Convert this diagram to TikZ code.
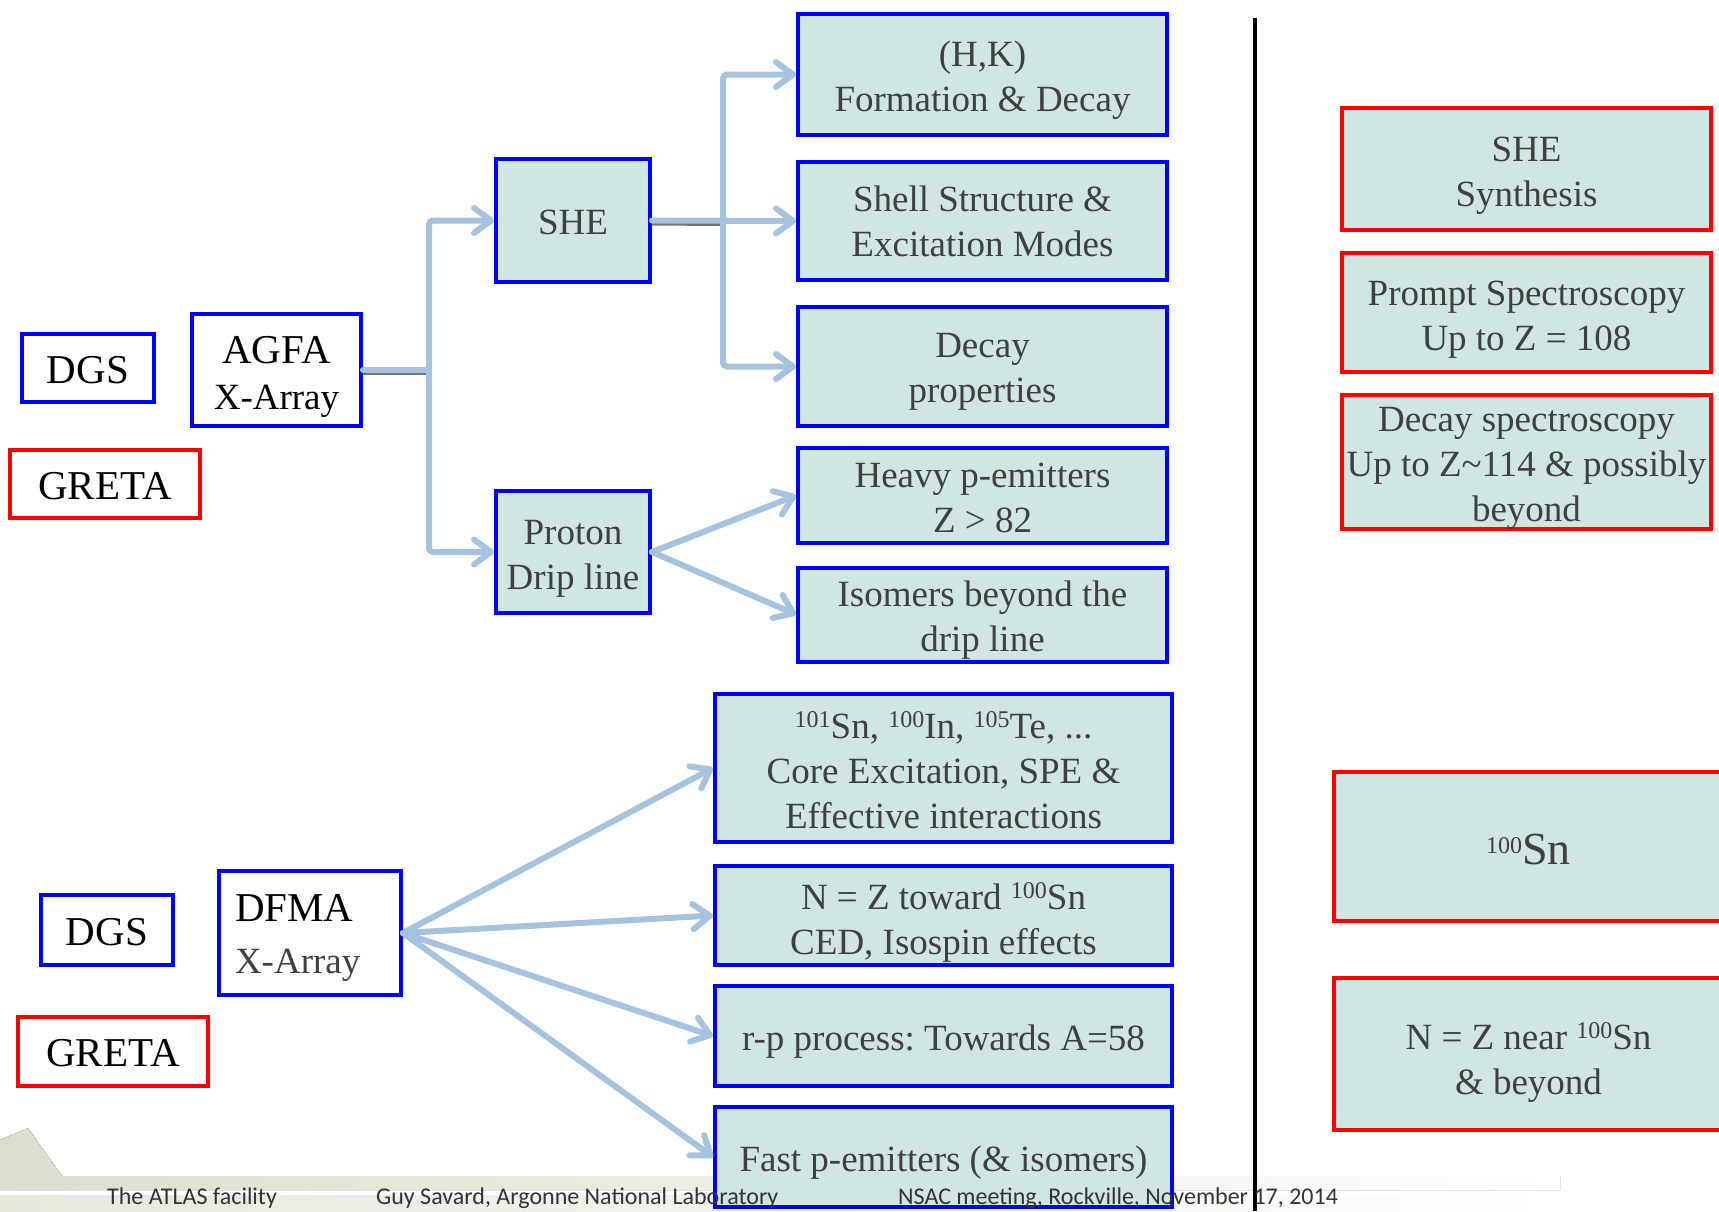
\documentclass[tikz,border=0pt]{standalone}
\usepackage{fontspec}
\setmainfont{Liberation Serif}
\newfontfamily\footfam{Carlito}
\usepackage{xcolor}
\usetikzlibrary{arrows.meta}
\frenchspacing

\definecolor{boxfill}{RGB}{208,230,227}
\definecolor{linkblue}{RGB}{165,195,222}
\definecolor{textgray}{RGB}{64,64,64}
\definecolor{bandgray}{RGB}{220,222,205}

\newcommand{\boxfont}{\fontsize{37}{45}\selectfont}
\newcommand{\detfont}{\fontsize{41}{46}\selectfont}
\newcommand{\massno}[1]{\raisebox{11pt}{\fontsize{24}{24}\selectfont #1}}

\begin{document}
\begin{tikzpicture}[x=1pt, y=-1pt]

\tikzset{
    box/.style = {
    inner sep=0pt,
    align=center,
    fill=boxfill,
    text=textgray,
    font=\boxfont
    }
}

\tikzstyle{topic}=[draw=blue, line width=4pt, box]
\tikzstyle{goal}=[draw=red, line width=4pt, box]
\tikzstyle{blueframe}=[draw=blue, line width=4pt, fill=white, inner sep=0pt, align=center, text height=31pt, font=\detfont]
\tikzstyle{redframe}=[draw=red, line width=4pt, fill=white, inner sep=0pt, align=center, text height=31pt, font=\detfont]
\tikzstyle{link}=[draw=linkblue, line width=6pt, line cap=round, rounded corners=4pt, -{Straight Barb[length=17pt, width=25pt, round]}]
\tikzstyle{shadowline}=[draw=black!55, line width=6pt, transform canvas={yshift=-2pt}]
\tikzstyle{footer}=[anchor=base west, inner sep=0pt, text=black!80, font=\footfam\fontsize{24}{24}\selectfont]

\useasboundingbox (0,0) rectangle (1719,1211);

% slide footer band
\fill[left color=bandgray, right color=white] (0,1140) -- (28,1128) -- (62,1176) -- (1560,1176) -- (1560,1190) -- (0,1190) -- cycle;
\fill[left color=bandgray!70, right color=white] (0,1195) rectangle (1560,1211);

% detectors
\node (dgsA) [blueframe, minimum width=132pt, minimum height=68pt] at (88,368) {DGS};
\node (agfa) [blueframe, minimum width=169pt, minimum height=112pt, text height=86pt] at (276.5,370) {AGFA\\{\fontsize{37}{45}\selectfont X-Array}};
\node (gretaA) [redframe, minimum width=190pt, minimum height=68pt] at (105,484) {GRETA};

\node (dgsB) [blueframe, minimum width=132pt, minimum height=70pt] at (107,930) {DGS};
\node (dfma) [blueframe, text width=150pt, inner xsep=16pt, minimum height=124pt, text height=36pt, align=left] at (310,933) {DFMA\\[6pt]{\color{textgray}\fontsize{37}{45}\selectfont X-Array}};
\node (gretaB) [redframe, minimum width=190pt, minimum height=69pt] at (113,1051.5) {GRETA};

% physics
\node (she) [topic, minimum width=154pt, minimum height=123pt, text height=28pt] at (573,220.5) {SHE};
\node (proton) [topic, minimum width=154pt, minimum height=122pt, text height=82pt] at (573,552) {Proton\\Drip line};

\node (hk) [topic, minimum width=369pt, minimum height=121pt, text height=82pt] at (982.5,74.5) {(H,K)\\Formation \& Decay};
\node (shell) [topic, minimum width=369pt, minimum height=118pt, text height=72pt] at (982.5,221) {Shell Structure \&\\Excitation Modes};
\node (decay) [topic, minimum width=369pt, minimum height=119pt, text height=79pt] at (982.5,366.5) {Decay\\properties};
\node (heavy) [topic, minimum width=369pt, minimum height=95pt, text height=74pt] at (982.5,495.5) {Heavy p-emitters\\Z > 82};
\node (iso) [topic, minimum width=369pt, minimum height=94pt, text height=82pt] at (982.5,614.5) {Isomers beyond the\\drip line};

\node (sn) [topic, minimum width=457pt, minimum height=148pt, text height=121pt] at (943.5,768) {\massno{101}Sn, \massno{100}In, \massno{105}Te, ...\\Core Excitation, SPE \&\\Effective interactions};
\node (nz) [topic, minimum width=457pt, minimum height=99pt, text height=86pt] at (943.5,915.5) {N = Z toward \massno{100}Sn\\CED, Isospin effects};
\node (rp) [topic, minimum width=457pt, minimum height=100pt, text height=37pt] at (943.5,1036) {r-p process: Towards A=58};
\node (fast) [topic, minimum width=457pt, minimum height=100pt, text height=37pt] at (943.5,1157) {Fast p-emitters (\& isomers)};

% goals
\node (synth) [goal, minimum width=369pt, minimum height=122pt, text height=83pt] at (1526.5,169) {SHE\\Synthesis};
\node (prompt) [goal, minimum width=369pt, minimum height=119pt, text height=83pt] at (1526.5,312.5) {Prompt Spectroscopy\\Up to Z = 108};
\node (dspec) [goal, minimum width=369pt, minimum height=128pt, text height=126pt] at (1526.5,462) {Decay spectroscopy\\Up to Z\textasciitilde 114 \& possibly\\beyond};
\node (snC) [goal, minimum width=389pt, minimum height=149pt, text height=36pt, font=\fontsize{46}{50}\selectfont] at (1528.5,846.5) {\massno{100}Sn};
\node (nzC) [goal, minimum width=389pt, minimum height=152pt, text height=88pt] at (1528.5,1054) {N = Z near \massno{100}Sn\\\& beyond};

\draw[line width=3.5pt] (1255,18) -- (1255,1211);

% connectors
\coordinate (trunkA) at (429,370);
\coordinate (trunkB) at (723,221);

\draw[shadowline] (agfa.east) -- (trunkA);
\draw[shadowline] (she.east) -- (trunkB);
\draw[link, -] (agfa.east) -- (trunkA);
\draw[link] (trunkA) |- (she.west);
\draw[link] (trunkA) |- (proton.west);

\draw[link] (she.east) -- (shell.west);
\draw[link] (trunkB) |- (hk.west);
\draw[link] (trunkB) |- (decay.west);

\draw[link] (proton.east) -- (heavy.west);
\draw[link] (proton.east) -- (iso.west);

\foreach \t in {sn,nz,rp,fast}{
    \draw[link] (dfma.east) -- (\t.west);
}

% footer
\node (ftitle) [footer] at (107,1204) {The ATLAS facility};
\node (fauthor) [footer] at (376,1204) {Guy Savard, Argonne National Laboratory};
\node (fmeeting) [footer] at (898,1204) {NSAC meeting, Rockville, November 17, 2014};

\end{tikzpicture}
\end{document}
